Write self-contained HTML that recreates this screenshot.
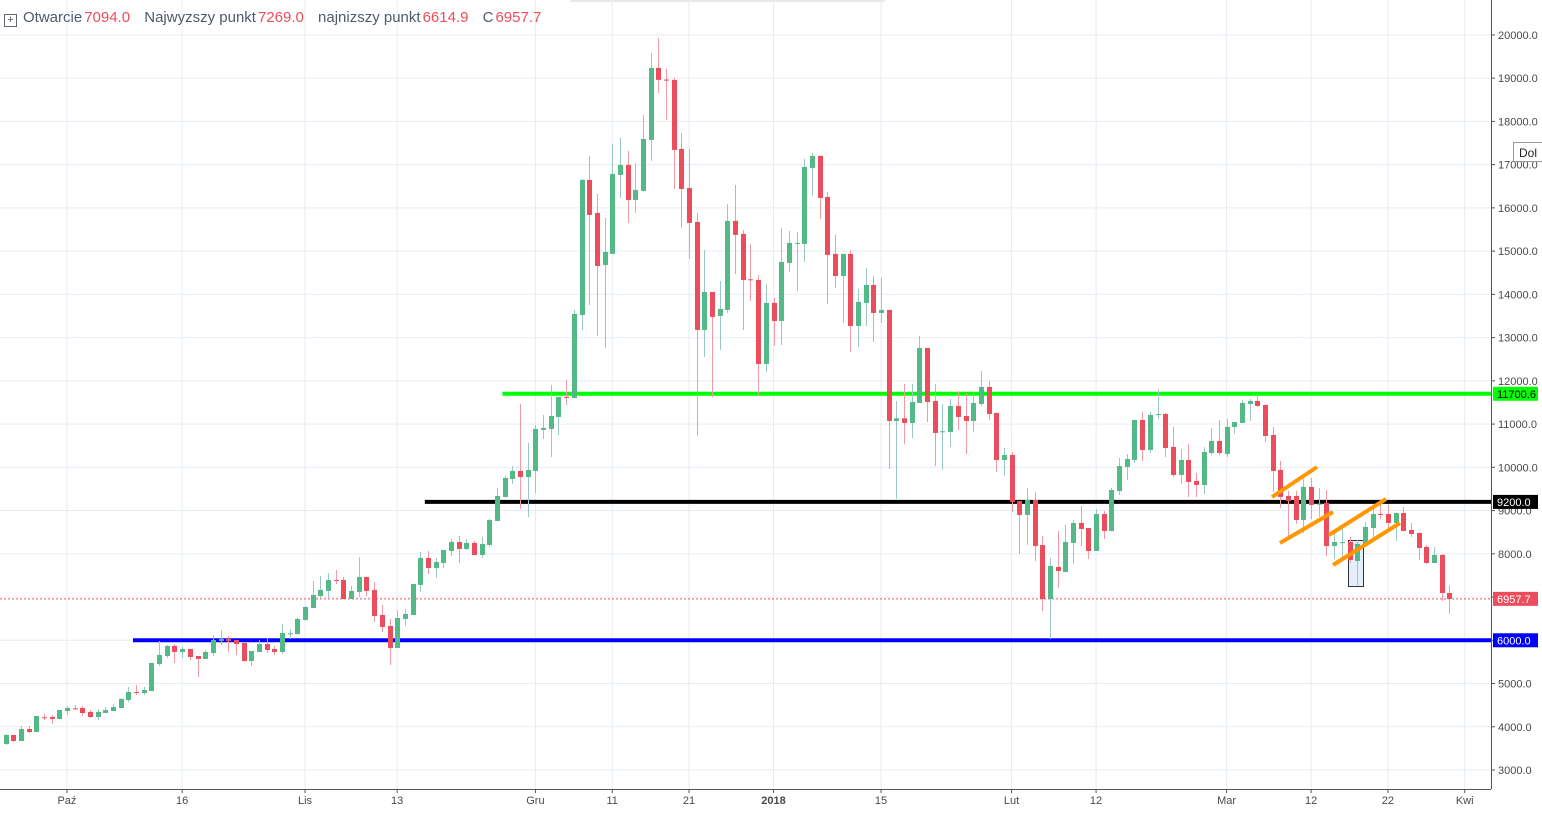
<!DOCTYPE html>
<html><head><meta charset="utf-8">
<style>
html,body{margin:0;padding:0;background:#fff;width:1542px;height:813px;overflow:hidden;font-family:"Liberation Sans",sans-serif;}
#hdr{position:absolute;left:4px;top:9px;font-size:15px;color:#4e5b6a;white-space:nowrap;}
#hdr .v{color:#eb4d5c;margin-right:10px;margin-left:2px;}
#hdr .ic{display:inline-block;width:11px;height:11px;border:1px solid #666;position:relative;top:1px;margin-right:6px;font-size:11px;line-height:11px;text-align:center;}
#dol{position:absolute;left:1513px;top:142px;width:30px;height:20px;border:1px solid #999;background:#fff;font-size:12px;line-height:20px;padding-left:5px;box-sizing:border-box;color:#222;overflow:hidden;}
</style></head>
<body>
<svg id="chart" width="1542" height="813" style="position:absolute;left:0;top:0"></svg>
<div id="hdr"><span class="ic">+</span>Otwarcie<span class="v">7094.0</span> Najwyzszy punkt<span class="v">7269.0</span> najnizszy punkt<span class="v">6614.9</span> C<span class="v">6957.7</span></div>
<div id="dol">Dol</div>
<script>
const opens=[3601,3810,3671,3948,3879,4218,4226,4180,4365,4426,4434,4342,4226,4318,4365,4434,4619,4804,4781,4827,5452,5637,5868,5730,5799,5637,5568,5706,5984,6030,6007,5938,5521,5730,5914,5799,5730,6161,6146,6470,6747,7025,7141,7395,7395,6956,7118,7465,7164,6585,6331,5822,6493,6585,7280,7904,7673,7788,8066,8274,8112,8251,7973,8205,8760,9315,9731,9916,9777,9916,10865,10888,11165,11628,11604,13524,16646,15883,14680,14935,16762,16993,16184,16392,17572,19237,18967,18960,17363,16461,15675,13177,14056,13501,13640,15699,15398,14348,14333,12391,13802,13385,14727,15182,15167,16924,17202,16253,14935,14426,14935,13269,13802,14218,13570,13640,11072,11134,11026,11488,12761,11535,10833,10818,11419,11188,11072,11466,11859,11257,10170,10286,9222,8898,9245,8204,6955,7695,7580,8250,8713,8597,8065,8921,8528,9453,10009,10170,11095,10402,11211,11234,10471,9823,10170,9685,9592,10332,10610,10309,10934,11026,11466,11535,11443,10749,9939,9338,9338,8783,9546,9153,9176,8181,8266,8274,7834,8204,8598,8921,8921,8713,8944,8551,8482,8158,7788,7973,7094];
const closes=[3810,3671,3948,3879,4249,4210,4180,4388,4434,4410,4318,4226,4342,4388,4457,4642,4804,4796,4850,5475,5660,5868,5730,5799,5614,5568,5730,6007,6030,5984,5914,5521,5753,5914,5776,5730,6169,6161,6493,6770,7048,7164,7395,7387,6956,7141,7465,7141,6562,6308,5822,6516,6609,7303,7904,7673,7811,8089,8274,8112,8251,7973,8228,8783,9338,9754,9916,9777,9939,10888,10911,11188,11628,11620,13547,16646,15837,14657,14981,16785,16993,16184,16415,17595,19237,18960,18960,17340,16438,15652,13177,14056,13478,13663,15699,15375,14333,14326,12391,13802,13385,14750,15190,15190,16947,17202,16230,14912,14425,14935,13269,13825,14218,13570,13640,11072,11134,11026,11512,12761,11512,10795,10833,11419,11165,11072,11488,11859,11234,10170,10286,9199,8898,9245,8181,6955,7719,7603,8273,8713,8574,8065,8921,8528,9476,10031,10194,11095,10402,11211,11234,10448,9823,10170,9662,9592,10356,10610,10332,10934,11049,11489,11535,11419,10726,9916,9315,9222,8783,9546,9130,9160,8181,8274,8270,7857,8228,8621,8921,8914,8713,8944,8528,8459,8135,7788,7973,7094,6957.7];
const highs=[3833,3810,4018,4018,4249,4295,4272,4388,4480,4503,4480,4388,4411,4457,4527,4665,4920,4966,4920,5475,5984,5891,5914,5845,5799,5637,5776,6123,6238,6100,6007,5938,5753,6007,6053,5868,6377,6261,6520,6800,7372,7488,7557,7627,7465,7256,7927,7465,7349,6817,6493,6701,6724,7303,8043,8066,7904,8089,8343,8413,8343,8297,8390,8806,9523,9800,10031,11466,10564,10980,11211,11905,11628,12021,13640,16670,17202,16323,15768,17479,17618,17317,17040,18150,19584,19931,19214,19006,17734,17363,15883,15027,14056,14310,16091,16531,15490,15167,14449,14241,13917,15536,15467,15444,17132,17271,17202,16369,15375,14935,15027,14125,14611,14426,14380,13640,11535,11928,11928,13038,12761,11928,11466,11581,11766,11720,11720,12229,11998,11257,10448,10355,9222,9523,9430,8412,7904,8528,8667,8782,9106,8597,9037,8991,9522,10216,10309,11095,11281,11281,11812,11258,10934,10425,10541,9870,10471,10911,11095,11119,10934,11558,11581,11720,11443,10934,10147,9454,9454,9731,9754,9523,9477,8482,8667,8390,8320,8737,9060,9199,9130,8944,9083,8713,8482,8204,8158,7996,7269];
const lows=[3578,3650,3671,3856,3879,4157,4064,4180,4272,4388,4249,4203,4157,4318,4365,4434,4573,4735,4735,4827,5406,5591,5475,5591,5544,5151,5568,5637,5891,5730,5660,5506,5406,5730,5706,5660,5683,6030,6146,6450,6747,6979,6979,7303,6956,6956,7002,7025,6423,6192,5429,5822,6331,6585,7118,7534,7442,7673,7950,7788,8089,7973,7904,8158,8760,9292,9615,9037,8852,9407,10656,10240,10749,11443,11604,13177,13755,13038,12761,14935,16230,15652,15883,16392,17086,18659,18034,16438,15536,14819,10725,12553,11627,12715,13570,14472,13177,13848,11674,12206,12807,12830,14518,14079,14750,16276,15745,13778,14148,13339,12668,12784,13269,12899,13339,9962,9268,10540,10679,11488,11049,10031,9939,10471,10864,10309,10818,11419,11095,9893,9800,8967,7996,8204,7834,6678,6030,7209,7580,7765,8181,7880,8065,8343,8528,9360,9708,10101,10147,10332,11119,10240,9777,9615,9315,9315,9384,10286,10286,10240,10772,11026,11072,11396,10587,9430,9060,8390,8690,8482,8806,8852,7950,7881,7927,7788,7279,8204,8343,8800,8598,8297,8528,8390,7858,7765,7788,6909,6614.9];
const tickLabels=['Paź','16','Lis','13','Gru','11','21','2018','15','Lut','12','Mar','12','22','Kwi'];
const tickDays=[8,23,39,51,69,79,89,100,114,131,142,159,170,180,190];
const priceTicks=[3000,4000,5000,6000,7000,8000,9000,10000,11000,12000,13000,14000,15000,16000,17000,18000,19000,20000];
const levels=[11700.6,9200,6000];
const levelStart=[64.7,54.6,16.6];
const levelColors=['#00ff00','#000000','#0000ff'];
const lastPrice=6957.7;

const NS='http://www.w3.org/2000/svg';
const svg=document.getElementById('chart');
const X0=5.5, STEP=7.68, AXX=1491, AXY=789;
function x(i){return X0+STEP*i;}
function y(p){return 770-(p-3000)/1000*43.24;}
function mk(tag,attrs,parent){const e=document.createElementNS(NS,tag);for(const k in attrs)e.setAttribute(k,attrs[k]);(parent||svg).appendChild(e);return e;}

// faint top tooltip edge
const tb=mk('rect',{x:570,y:0,width:315,height:2,fill:'#e8e8e8'});



const grid=mk('g',{});


priceTicks.forEach(p=>{const l=mk('line',{x1:0,x2:AXX,y1:y(p),y2:y(p),stroke:'#e6edf2','stroke-width':1},grid);

});
tickDays.forEach(d=>{const l=mk('line',{x1:x(d),x2:x(d),y1:0,y2:AXY,stroke:'#e6edf2','stroke-width':1},grid);

});

const lp=mk('line',{x1:0,x2:AXX,y1:y(lastPrice),y2:y(lastPrice),stroke:'#eb4d5c','stroke-width':1,'stroke-dasharray':'2,2'});



const rc=mk('rect',{x:1348.5,y:540.5,width:15,height:46,fill:'#e4eef8',stroke:'#333','stroke-width':1});



levels.forEach((v,k)=>{const l=mk('line',{x1:x(levelStart[k]),x2:AXX,y1:y(v),y2:y(v),stroke:levelColors[k],'stroke-width':4});

});

const cg=mk('g',{});


for(let i=0;i<opens.length;i++){
  const up=closes[i]>=opens[i];
  const cx=Math.round(x(i))+0.5;
  const g=mk('g',{},cg);
  
  
  mk('line',{x1:cx,x2:cx,y1:y(highs[i]),y2:y(lows[i]),stroke:up?'#9cc7c6':'#f29aa6','stroke-width':1},g);
  const t=y(Math.max(opens[i],closes[i])),b=y(Math.min(opens[i],closes[i]));
  mk('rect',{x:cx-2.5,y:t,width:5,height:Math.max(1,b-t),fill:up?'#53b987':'#eb4d5c'},g);
}

const og=mk('g',{});


[[1272,497,1317,467],[1280,543,1333,512],[1329,535,1386,499],[1333,565,1400,523]].forEach(s=>{
  mk('line',{x1:s[0],y1:s[1],x2:s[2],y2:s[3],stroke:'#ff9800','stroke-width':4},og);
});

const ax=mk('g',{});


mk('line',{x1:AXX+0.5,x2:AXX+0.5,y1:0,y2:AXY,stroke:'#555','stroke-width':1},ax);
mk('line',{x1:0,x2:AXX,y1:AXY+0.5,y2:AXY+0.5,stroke:'#555','stroke-width':1},ax);
priceTicks.forEach(p=>{
  mk('line',{x1:AXX,x2:AXX+4,y1:y(p),y2:y(p),stroke:'#555'},ax);
  const t=mk('text',{x:AXX+7,y:y(p)+4,'font-size':11,fill:'#4a4a4a','font-family':'Liberation Sans, sans-serif'},ax);
  t.textContent=p.toFixed(1);
  
  
});
tickLabels.forEach((lab,k)=>{
  mk('line',{x1:x(tickDays[k]),x2:x(tickDays[k]),y1:AXY,y2:AXY+4,stroke:'#555'},ax);
  const t=mk('text',{x:x(tickDays[k]),y:804,'font-size':11,fill:'#4a4a4a','text-anchor':'middle','font-family':'Liberation Sans, sans-serif','font-weight':lab==='2018'?'bold':'normal'},ax);
  t.textContent=lab;
  
  
});

const labVals=[levels[0],levels[1],lastPrice,levels[2]];
const labFill=['#00ff00','#000000','#eb4d5c','#0000ff'];
const labText=['#000','#fff','#fff','#fff'];
labVals.forEach((v,k)=>{
  const g=mk('g',{});
  
  
  mk('rect',{x:AXX+2,y:y(v)-7,width:45,height:14,fill:labFill[k]},g);
  const t=mk('text',{x:AXX+6,y:y(v)+4,'font-size':11,fill:labText[k],'font-family':'Liberation Sans, sans-serif'},g);
  t.textContent=v.toFixed(1);
});
</script>
</body></html>
